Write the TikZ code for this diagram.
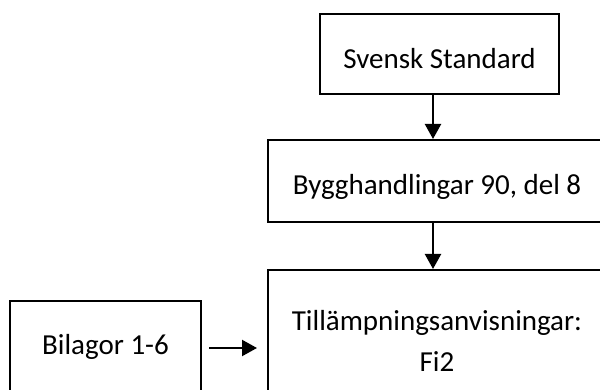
\documentclass[tikz,border=0pt]{standalone}
\usepackage{fontspec}
\setmainfont{Carlito}
\usetikzlibrary{arrows.meta}
\begin{document}
\begin{tikzpicture}[x=1pt,y=-1pt,
  box/.style={draw=black, line width=2pt, fill=white, inner sep=0pt,
    anchor=north west, font=\fontsize{29}{41}\selectfont},
  arr/.style={line width=2.2pt, -{Triangle[length=15pt,width=16pt]}}]
  \useasboundingbox (0,0) rectangle (600,390);
  \clip (0,0) rectangle (600,390);

  % the chain of documents
  \node[box, minimum width=239pt, text height=55pt, text depth=25pt]
    (ss) at (319,13) {Svensk Standard};
  \node[box, minimum width=338pt, text height=55pt, text depth=27pt]
    (bygg) at (267,139) {Bygghandlingar 90, del 8};
  \node[box, minimum width=338pt, minimum height=142pt, align=center]
    (till) at (267,269) {Tillämpningsanvisningar:\\Fi2};
  \node[box, minimum width=191pt, text height=53pt, text depth=50pt]
    (bil) at (9,300) {Bilagor 1-6};

  % connectors
  \draw[arr] ([xshift=-6.5pt]ss.south) -- ([xshift=-4pt]bygg.north);
  \draw[arr] ([xshift=-4pt]bygg.south) -- ([xshift=-4pt]till.north);
  \coordinate (bilout) at ([yshift=4.5pt]bil.east);
  \draw[arr, shorten <=7pt, shorten >=10pt] (bilout) -- (bilout -| till.west);
\end{tikzpicture}
\end{document}
